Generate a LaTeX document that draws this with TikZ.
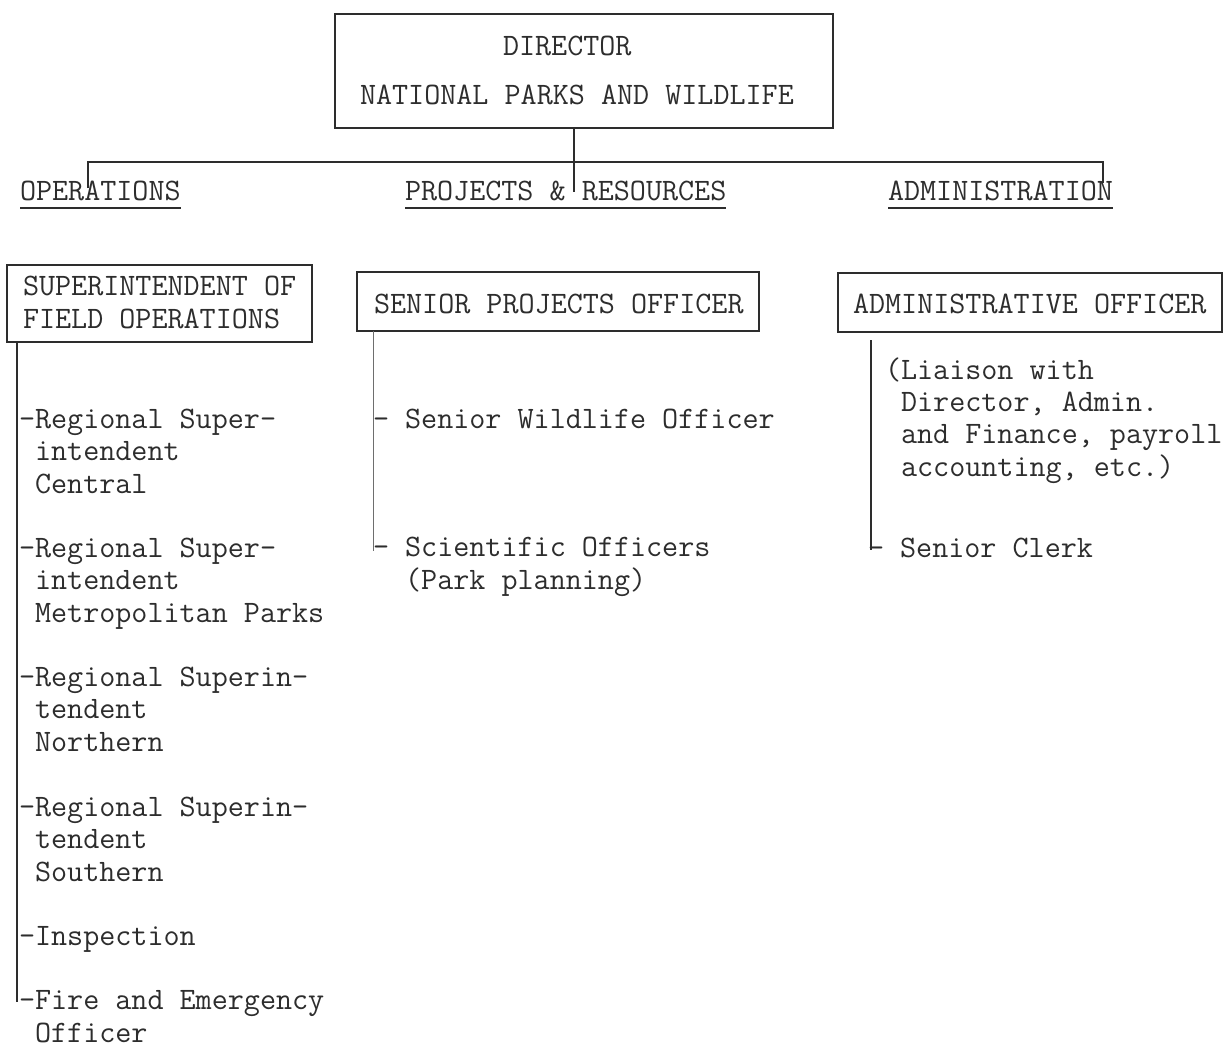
\documentclass[tikz,border=0pt]{standalone}
\usepackage{fontspec}
\usetikzlibrary{calc}
\definecolor{ink}{RGB}{45,45,45}
\definecolor{faint}{RGB}{110,110,110}
\begin{document}
\begin{tikzpicture}[x=0.5pt,y=-0.5pt,
  every node/.style={inner sep=0pt, outer sep=0pt},
  % multi-line texts are placed by the baseline of their last line
  txt/.style={font=\ttfamily\fontsize{15.6}{16.15}\selectfont, text=ink,
    anchor=base west, align=left},
  frame/.style={draw=ink, line width=0.6pt, rectangle},
  link/.style={draw=ink, line width=0.7pt},
  weak/.style={draw=faint, line width=0.5pt},
  rule/.style={draw=ink, line width=0.9pt}]

% page
\fill[white] (0,0) rectangle (1224,1046);
\useasboundingbox (0,0) rectangle (1224,1046);

% boxes
\node[frame, minimum width=249pt, minimum height=57pt] (dir) at (584,71) {};
\node[frame, minimum width=152.5pt, minimum height=38.5pt] (sfo) at (159.5,303.5) {};
\node[frame, minimum width=201pt, minimum height=29.5pt] (spo) at (558,301.5) {};
\node[frame, minimum width=192pt, minimum height=29.5pt] (ao) at (1030,302.5) {};

% director
\node[txt] (dirA) at (503,55) {DIRECTOR};
\node[txt] (dirB) at (360,104) {NATIONAL PARKS AND WILDLIFE};

% branch headings
\node[txt] (ops) at (20,200) {OPERATIONS};
\node[txt] (pr) at (405,200) {PROJECTS \& RESOURCES};
\node[txt] (adm) at (888,200) {ADMINISTRATION};
\foreach \h in {ops,pr,adm}
  \draw[rule] ($(\h.base west)+(0,8)$) -- ($(\h.base east)+(0,8)$);

% top connectors
\coordinate (hub) at (574,162);
\coordinate (opsTick) at (88,188);
\coordinate (admTick) at (1103,183);
\coordinate (prTick) at (574,192);
\draw[link] (opsTick) -- (opsTick |- hub) -- (admTick |- hub) -- (admTick);
\draw[link] (dir.south -| hub) -- (prTick);

% box titles
\node[txt] (sfoT) at (23,328) {SUPERINTENDENT OF\\FIELD OPERATIONS};
\node[txt] (spoT) at (374,313) {SENIOR PROJECTS OFFICER};
\node[txt] (aoT) at (853,313) {ADMINISTRATIVE OFFICER};

% operations column
\node[txt] (r1) at (19,493) {-Regional Super-\\\hphantom{X}intendent\\\hphantom{X}Central};
\node[txt] (r2) at (19,622) {-Regional Super-\\\hphantom{X}intendent\\\hphantom{X}Metropolitan Parks};
\node[txt] (r3) at (19,751) {-Regional Superin-\\\hphantom{X}tendent\\\hphantom{X}Northern};
\node[txt] (r4) at (19,881) {-Regional Superin-\\\hphantom{X}tendent\\\hphantom{X}Southern};
\node[txt] (r5) at (19,945) {-Inspection};
\node[txt] (r6) at (19,1042) {-Fire and Emergency\\\hphantom{X}Officer};
\coordinate (opsEnd) at (17,1002);
\draw[link] (opsEnd |- sfo.south) -- (opsEnd);

% projects column
\node[txt] (sw) at (373,428) {- Senior Wildlife Officer};
\node[txt] (so) at (373,589) {- Scientific Officers\\\hphantom{XX}(Park planning)};
\coordinate (prEnd) at (373,551);
\draw[weak] (prEnd |- spo.south) -- (prEnd);

% administration column
\node[txt] (li) at (885,476) {(Liaison with\\\hphantom{(}Director, Admin.\\\hphantom{(}and Finance, payroll\\\hphantom{(}accounting, etc.)};
\node[txt] (sc) at (868,557) {- Senior Clerk};
\coordinate (admEnd) at (871,550);
\draw[link] ($(admEnd |- ao.south)+(0,8)$) -- (admEnd);

\end{tikzpicture}
\end{document}
